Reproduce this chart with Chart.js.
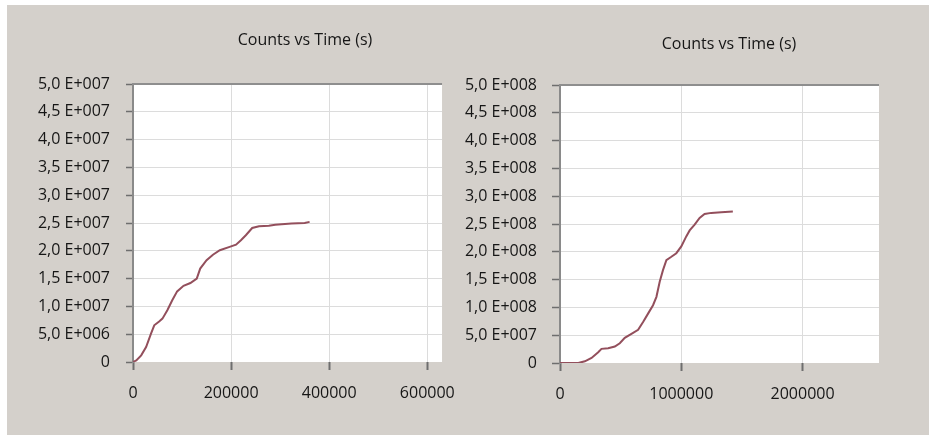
<!DOCTYPE html>
<html>
<head>
<meta charset="utf-8">
<script src="https://cdn.jsdelivr.net/npm/chart.js@4.4.1/dist/chart.umd.min.js"></script>
<style>
  html, body { margin: 0; padding: 0; background: #ffffff; width: 929px; height: 435px; overflow: hidden; }
  #panel { position: absolute; left: 7px; top: 5px; width: 922px; height: 430px; background: #d4d0cb; }
  canvas { position: absolute; top: 0; }
  #leftChart { left: 0; }
  #rightChart { left: 450px; }
</style>
</head>
<body>
<div id="panel"></div>
<canvas id="leftChart" width="470" height="435"></canvas>
<canvas id="rightChart" width="479" height="435"></canvas>
<script>
// Run 1: cumulative counts against elapsed time (seconds)
const leftTime = [0, 6700, 16700, 26700, 36700, 43300, 53300, 60000, 70000, 80000, 90000,
  103000, 117000, 130000, 137000, 150000, 163000, 177000, 197000, 210000, 220000,
  230000, 243000, 257000, 277000, 290000, 323000, 350000, 360000];
const leftCounts = [0, 0.3e6, 1.2e6, 2.7e6, 5.1e6, 6.6e6, 7.3e6, 7.8e6, 9.3e6, 11.1e6, 12.7e6,
  13.7e6, 14.2e6, 15.0e6, 16.8e6, 18.3e6, 19.3e6, 20.1e6, 20.7e6, 21.1e6, 21.9e6,
  22.8e6, 24.1e6, 24.4e6, 24.5e6, 24.7e6, 24.9e6, 25.0e6, 25.2e6];

// Run 2: cumulative counts against elapsed time (seconds)
const rightTime = [0, 151000, 205000, 260000, 315000, 342000, 397000, 452000, 493000, 534000,
  589000, 644000, 685000, 726000, 767000, 795000, 822000, 849000, 877000, 918000,
  959000, 1000000, 1041000, 1069000, 1110000, 1151000, 1192000, 1247000, 1329000, 1425000];
const rightCounts = [0, 0, 3.0e6, 9.1e6, 19.3e6, 25.4e6, 26.6e6, 29.6e6, 35.6e6, 45.3e6,
  52.5e6, 59.8e6, 73.7e6, 88.8e6, 103.9e6, 119e6, 146e6, 167e6, 185e6, 191e6,
  197.5e6, 209.6e6, 227.7e6, 238.5e6, 248.8e6, 260.9e6, 268.1e6, 270e6, 271.1e6, 272.4e6];

// Axis ticks
const leftXTicks = [0, 200000, 400000, 600000];
const leftYTicks = [0, 5e6, 10e6, 15e6, 20e6, 25e6, 30e6, 35e6, 40e6, 45e6, 50e6];
const rightXTicks = [0, 1000000, 2000000];
const rightYTicks = [0, 5e7, 10e7, 15e7, 20e7, 25e7, 30e7, 35e7, 40e7, 45e7, 50e7];

const chartTitle = 'Counts vs Time (s)';

Chart.defaults.font.family = '"Open Sans", Lato, sans-serif';
Chart.defaults.font.size = 16;
Chart.defaults.font.weight = '500';
Chart.defaults.color = '#161616';

// "5,0 E+007" style labels
function sciLabel(v) {
  if (v === 0) return '0';
  const e = Math.floor(Math.log10(v) + 1e-9);
  const m = v / Math.pow(10, e);
  return m.toFixed(1).replace('.', ',') + ' E+' + String(e).padStart(3, '0');
}

// White plot area, framed on top by a grey rule
const plotFrame = {
  id: 'plotFrame',
  beforeDraw(chart) {
    const a = chart.chartArea, ctx = chart.ctx;
    ctx.save();
    ctx.fillStyle = '#ffffff';
    ctx.fillRect(a.left, a.top, a.right - a.left, a.bottom - a.top);
    ctx.restore();
  },
  afterDraw(chart) {
    const a = chart.chartArea, ctx = chart.ctx;
    ctx.save();
    ctx.strokeStyle = '#8e8e8e';
    ctx.lineWidth = 2;
    ctx.beginPath();
    ctx.moveTo(a.left - 1, a.top);
    ctx.lineTo(a.right, a.top);
    ctx.stroke();
    ctx.restore();
  }
};

// Heading drawn at a fixed centre point
const panelTitle = {
  id: 'panelTitle',
  afterDraw(chart, args, opts) {
    const ctx = chart.ctx;
    ctx.save();
    ctx.font = '500 ' + opts.size + 'px ' + Chart.defaults.font.family;
    ctx.fillStyle = '#161616';
    ctx.textAlign = 'center';
    ctx.textBaseline = 'middle';
    ctx.fillText(opts.text, opts.x, opts.y);
    ctx.restore();
  }
};

function makeChart(id, time, counts, xTicks, yTicks, xMax, yMax, g) {
  return new Chart(document.getElementById(id), {
    type: 'scatter',
    data: {
      datasets: [{
        data: time.map((t, i) => ({ x: t, y: counts[i] })),
        showLine: true,
        borderColor: '#934f5c',
        borderWidth: 2,
        pointRadius: 0,
        tension: 0
      }]
    },
    plugins: [plotFrame, panelTitle],
    options: {
      responsive: false,
      animation: false,
      layout: { padding: g.padding },
      plugins: {
        legend: { display: false },
        tooltip: { enabled: false },
        panelTitle: { text: chartTitle, x: g.titleX, y: g.titleY, size: 16 }
      },
      scales: {
        x: {
          type: 'linear',
          min: 0,
          max: xMax,
          afterBuildTicks: s => { s.ticks = xTicks.map(v => ({ value: v })); },
          afterFit: s => { s.height = g.xHeight; },
          border: { display: false },
          grid: {
            color: c => (c.tick && c.tick.value === 0) ? 'rgba(0,0,0,0)' : '#dcdcdc',
            lineWidth: 1,
            tickColor: '#6e6e6e',
            tickLength: 8,
            tickWidth: 2
          },
          ticks: { padding: 14, maxRotation: 0, autoSkip: false, callback: v => String(v) }
        },
        y: {
          type: 'linear',
          min: 0,
          max: yMax,
          afterBuildTicks: s => { s.ticks = yTicks.map(v => ({ value: v })); },
          afterFit: s => { s.width = g.yWidth; },
          border: { display: true, color: '#8a8a8a', width: 2 },
          grid: {
            color: c => (c.tick && (c.tick.value === 0 || c.tick.value === yMax)) ? 'rgba(0,0,0,0)' : '#dcdcdc',
            lineWidth: 1,
            tickColor: '#6e6e6e',
            tickLength: g.tickLen,
            tickWidth: 1.5
          },
          ticks: { padding: g.yPad, autoSkip: false, callback: v => sciLabel(v) }
        }
      }
    }
  });
}

makeChart('leftChart', leftTime, leftCounts, leftXTicks, leftYTicks, 630000, 5e7, {
  padding: { left: 10, top: 84, right: 26, bottom: 33 },
  xHeight: 40, yWidth: 123, yPad: 16, tickLen: 7, titleX: 305, titleY: 40
});

makeChart('rightChart', rightTime, rightCounts, rightXTicks, rightYTicks, 2630000, 5e8, {
  padding: { left: 10, top: 85, right: 50, bottom: 32 },
  xHeight: 40, yWidth: 100, yPad: 15, tickLen: 8, titleX: 279, titleY: 44
});
</script>
</body>
</html>
